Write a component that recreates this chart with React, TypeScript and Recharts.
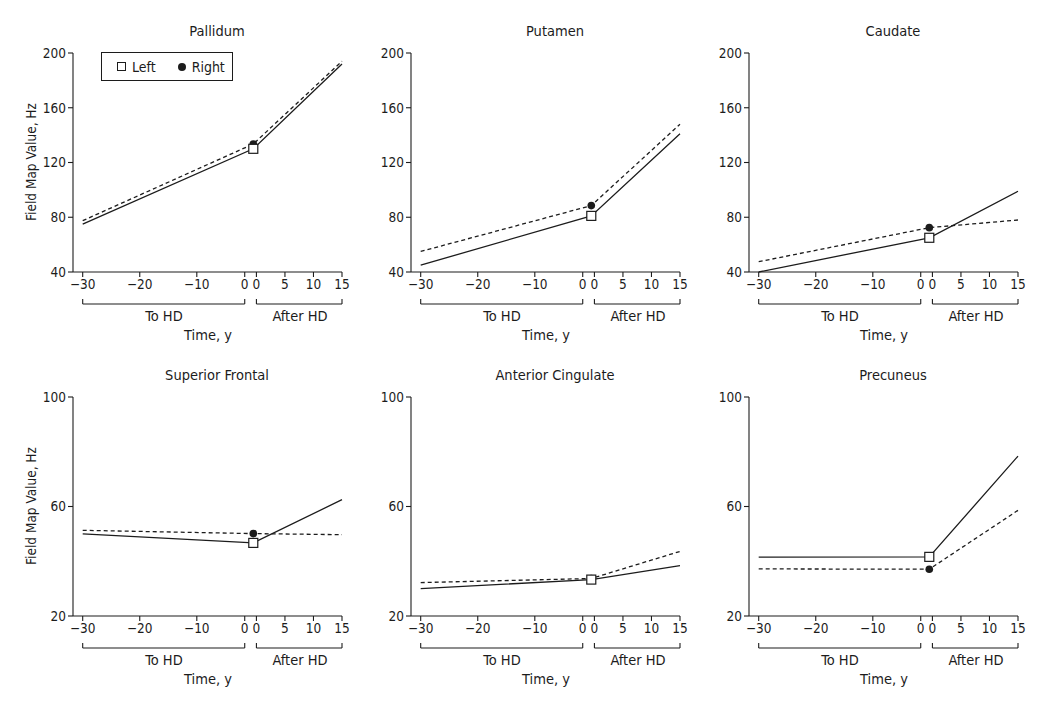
import React from 'react';
import { LineChart, Line, XAxis, YAxis, ReferenceLine } from 'recharts';

// positions on the broken time axis: 30 y before HD, HD onset, 15 y after HD
const TIME_POS = [-30, -0.1, 15.45];
const X_TICK_POS = [-30, -20, -10, -1.6, 0.45, 5.45, 10.45, 15.45];
const X_TICK_LABELS = ['\u221230', '\u221220', '\u221210', '0', '0', '5', '10', '15'];
const X_DOMAIN = [-31.7, 15.45];

const TOP_TICKS = [40, 80, 120, 160, 200];
const BOTTOM_TICKS = [20, 60, 100];

const REGIONS = ['Pallidum', 'Putamen', 'Caudate', 'Superior Frontal', 'Anterior Cingulate', 'Precuneus'];

const PALLIDUM_LEFT = [75, 130, 192];
const PALLIDUM_RIGHT = [77.5, 133.5, 194];
const PUTAMEN_LEFT = [45, 81, 141];
const PUTAMEN_RIGHT = [55, 88.5, 148];
const CAUDATE_LEFT = [40, 65, 99];
const CAUDATE_RIGHT = [47.5, 72.4, 78];
const SUPFRONTAL_LEFT = [50, 46.7, 62.5];
const SUPFRONTAL_RIGHT = [51.3, 50.1, 49.7];
const ANTCING_LEFT = [30, 33.3, 38.4];
const ANTCING_RIGHT = [32.2, 33.7, 43.6];
const PRECUNEUS_LEFT = [41.5, 41.6, 78.4];
const PRECUNEUS_RIGHT = [37.2, 37.1, 58.6];

const FONT = '"Liberation Sans Narrow", "DejaVu Sans Condensed", "Arial Narrow", sans-serif';
const INK = '#1c1c1c';

const CHART_W = 340;
const CHART_H = 350;
const PLOT_H = 219;
const COL_AXIS_X = [73, 411, 749];
const ROW_PLOT_TOP = [53, 397];

function buildRows(left: number[], right: number[]) {
  return TIME_POS.map((x, i) => ({ x, left: left[i], right: right[i] }));
}

const SquareDot = (props: any) => {
  const { cx, cy, index } = props;
  if (index !== 1) return <g key={`sq-${index}`} />;
  return (
    <rect key={`sq-${index}`} x={cx - 4.5} y={cy - 4.5} width={9} height={9}
      fill="#fff" stroke={INK} strokeWidth={1.2} />
  );
};

const CircleDot = (props: any) => {
  const { cx, cy, index } = props;
  if (index !== 1) return <g key={`ci-${index}`} />;
  return <circle key={`ci-${index}`} cx={cx} cy={cy} r={3.8} fill={INK} stroke="none" />;
};

function Panel({ title, left, right, yTicks, col, row, showYLabel, showLegend }: any) {
  const data = buildRows(left, right);
  const yMin = yTicks[0];
  const yMax = yTicks[yTicks.length - 1];
  const perPx = (yMax - yMin) / PLOT_H;
  const yBar = yMin - 32 * perPx;
  const yEnd = yMin - 27 * perPx;
  const axisX = COL_AXIS_X[col];
  const plotTop = ROW_PLOT_TOP[row];
  const brackets = [[X_TICK_POS[0], X_TICK_POS[3]], [X_TICK_POS[4], X_TICK_POS[7]]];

  const text = (style: any, content: any) => (
    <div style={{ position: 'absolute', fontFamily: FONT, color: INK, whiteSpace: 'nowrap', ...style }}>{content}</div>
  );

  return (
    <>
      <div style={{ position: 'absolute', left: axisX - 60, top: plotTop - 45 }}>
        <LineChart width={CHART_W} height={CHART_H} data={data}
          margin={{ top: 45, right: 11, bottom: 56, left: 20 }}>
          <XAxis dataKey="x" type="number" domain={X_DOMAIN} ticks={X_TICK_POS} interval={0}
            tickFormatter={(_v: any, i: number) => X_TICK_LABELS[i]}
            height={30} tickSize={5} tickMargin={2}
            axisLine={{ stroke: INK, strokeWidth: 1.1 }} tickLine={{ stroke: INK, strokeWidth: 1.1 }}
            tick={{ fill: INK, fontSize: 13.5, fontFamily: FONT }} />
          <YAxis type="number" domain={[yMin, yMax]} ticks={yTicks} interval={0}
            width={40} tickSize={5} tickMargin={2}
            axisLine={{ stroke: INK, strokeWidth: 1.1 }} tickLine={{ stroke: INK, strokeWidth: 1.1 }}
            tick={{ fill: INK, fontSize: 13.5, fontFamily: FONT }} />
          {brackets.map(([a, b], i) => (
            <ReferenceLine key={`bh-${i}`} ifOverflow="visible" stroke={INK} strokeWidth={1.1}
              segment={[{ x: a, y: yBar }, { x: b, y: yBar }]} />
          ))}
          {brackets.flat().map((a, i) => (
            <ReferenceLine key={`bv-${i}`} ifOverflow="visible" stroke={INK} strokeWidth={1.1}
              segment={[{ x: a, y: yEnd }, { x: a, y: yBar }]} />
          ))}
          <Line dataKey="right" stroke={INK} strokeWidth={1.3} strokeDasharray="4 3"
            dot={CircleDot} activeDot={false} isAnimationActive={false} />
          <Line dataKey="left" stroke={INK} strokeWidth={1.3}
            dot={SquareDot} activeDot={false} isAnimationActive={false} />
        </LineChart>
      </div>
      {text({ left: axisX + 144 - 100, width: 200, top: plotTop - 30, fontSize: 14.5, textAlign: 'center', lineHeight: '16px' }, title)}
      {text({ left: axisX + 91 - 50, width: 100, top: plotTop + 255, fontSize: 14.5, textAlign: 'center', lineHeight: '16px' }, 'To HD')}
      {text({ left: axisX + 227 - 50, width: 100, top: plotTop + 255, fontSize: 14.5, textAlign: 'center', lineHeight: '16px' }, 'After HD')}
      {text({ left: axisX + 135 - 50, width: 100, top: plotTop + 274, fontSize: 14.5, textAlign: 'center', lineHeight: '16px' }, 'Time, y')}
      {showYLabel && text({
        left: 31 - 100, width: 200, top: plotTop + 109 - 8, fontSize: 13.5, textAlign: 'center', lineHeight: '16px',
        transform: 'rotate(-90deg)',
      }, 'Field Map Value, Hz')}
      {showLegend && (
        <div style={{
          position: 'absolute', left: axisX + 28, top: plotTop - 1, width: 130, height: 27,
          border: `1px solid ${INK}`, background: '#fff', fontFamily: FONT, fontSize: 14, color: INK,
          display: 'flex', alignItems: 'center',
        }}>
          <span style={{ display: 'inline-block', width: 7, height: 7, border: `1.2px solid ${INK}`, marginLeft: 15 }} />
          <span style={{ marginLeft: 6 }}>Left</span>
          <span style={{ display: 'inline-block', width: 8, height: 8, borderRadius: 4, background: INK, marginLeft: 22 }} />
          <span style={{ marginLeft: 6 }}>Right</span>
        </div>
      )}
    </>
  );
}

export default function App() {
  const panels = [
    { left: PALLIDUM_LEFT, right: PALLIDUM_RIGHT, ticks: TOP_TICKS },
    { left: PUTAMEN_LEFT, right: PUTAMEN_RIGHT, ticks: TOP_TICKS },
    { left: CAUDATE_LEFT, right: CAUDATE_RIGHT, ticks: TOP_TICKS },
    { left: SUPFRONTAL_LEFT, right: SUPFRONTAL_RIGHT, ticks: BOTTOM_TICKS },
    { left: ANTCING_LEFT, right: ANTCING_RIGHT, ticks: BOTTOM_TICKS },
    { left: PRECUNEUS_LEFT, right: PRECUNEUS_RIGHT, ticks: BOTTOM_TICKS },
  ];
  return (
    <div style={{ position: 'absolute', left: 0, top: 0, width: 1050, height: 710, background: '#fff', overflow: 'hidden' }}>
      {panels.map((p, i) => (
        <Panel key={REGIONS[i]} title={REGIONS[i]} left={p.left} right={p.right} yTicks={p.ticks}
          col={i % 3} row={Math.floor(i / 3)} showYLabel={i % 3 === 0} showLegend={i === 0} />
      ))}
    </div>
  );
}
